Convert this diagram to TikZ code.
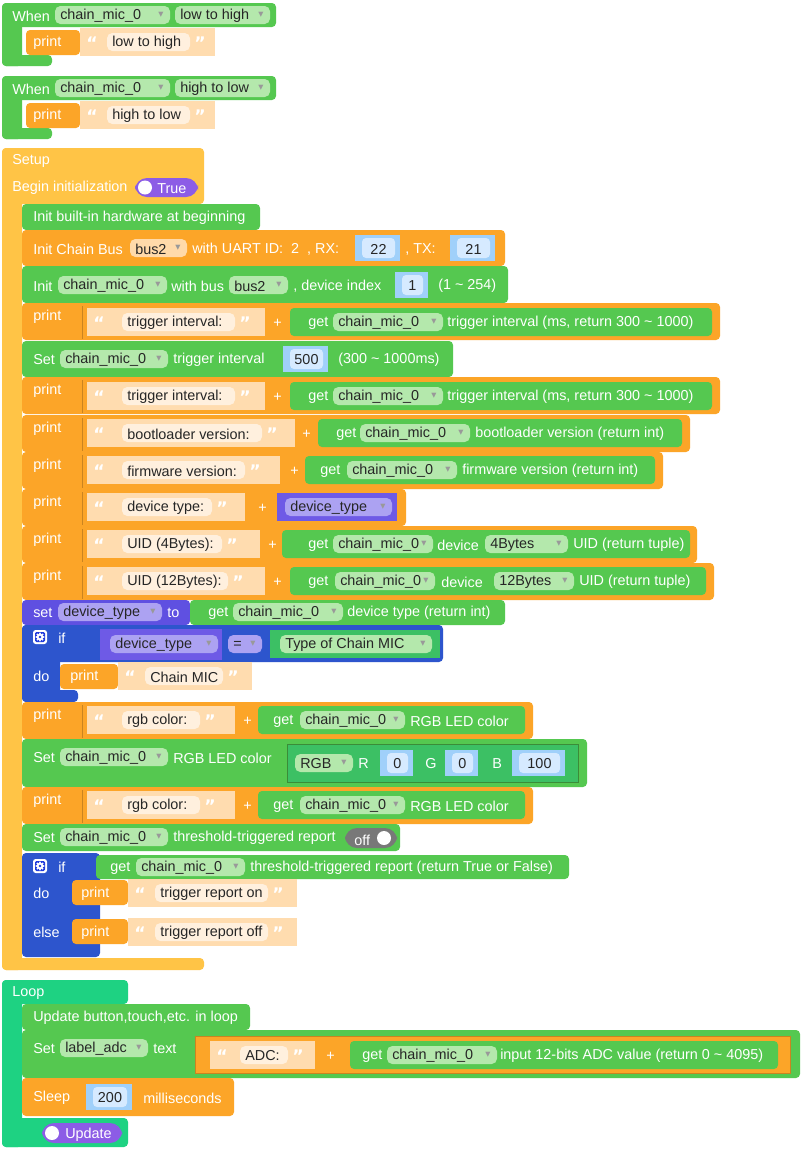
\documentclass[tikz,border=0pt]{standalone}
\usepackage{fontspec}
\setmainfont{Liberation Sans}
\newfontfamily\sym{DejaVu Sans}
\definecolor{grn}{RGB}{85,200,80}
\definecolor{fgrn}{RGB}{180,232,172}
\definecolor{dgrn}{RGB}{60,192,100}
\definecolor{org}{RGB}{252,165,40}
\definecolor{forg}{RGB}{255,218,170}
\definecolor{str}{RGB}{255,220,175}
\definecolor{fstr}{RGB}{255,240,222}
\definecolor{nblu}{RGB}{160,208,250}
\definecolor{fnblu}{RGB}{214,234,255}
\definecolor{ppl}{RGB}{95,80,225}
\definecolor{fppl}{RGB}{172,162,242}
\definecolor{vppl}{RGB}{110,90,230}
\definecolor{tgl}{RGB}{140,92,230}
\definecolor{ifb}{RGB}{45,85,205}
\definecolor{teal}{RGB}{30,210,130}
\definecolor{yel}{RGB}{255,196,70}
\definecolor{gry}{RGB}{120,120,120}
\tikzset{tx/.style={anchor=west,inner sep=0pt,text=white,font=\fontsize{10.8}{12}\selectfont},
 fx/.style={anchor=west,inner sep=0pt,text=black!85,font=\fontsize{10.8}{12}\selectfont},
 qx/.style={anchor=center,inner sep=0pt,text=white,font=\sym\fontsize{13}{13}\selectfont\bfseries},
 dd/.style={anchor=center,inner sep=0pt,text=black!40,font=\sym\fontsize{5}{6}\selectfont}}
\newcommand\bx[5]{\fill[#5,rounded corners=3pt](#1,#2) rectangle (#3,#4);}
\newcommand\T[3]{\node[tx] at (#1,#2+1){#3};}
\newcommand\F[5]{\fill[#5,rounded corners=4pt](#1,#3-9) rectangle (#2,#3+9);\node[fx] at (#1+5,#3+1){#4};}
\newcommand\FD[5]{\F{#1}{#2}{#3}{#4}{#5}\node[dd] at (#2-9,#3){▼};}
\newcommand\N[4]{\fill[nblu](#1,#3-13) rectangle (#2,#3+13);\fill[fnblu,rounded corners=3pt](#1+7,#3-10) rectangle (#2-5,#3+10);\node[fx,anchor=center] at ({(#1+#2)/2+1},#3+1){#4};}
\newcommand\Sb[6]{\fill[str](#1,#5-14) rectangle (#2,#5+14);\node[qx] at (#1+12,#5+1){“};\F{#3}{#4}{#5}{#6}{fstr}\node[qx] at (#4+10,#5+1){”};}
\newcommand\Prt[3]{\bx{22}{#1}{#2}{#1+37}{org}\draw[org!80!black,line width=0.4pt](82,#1+3)--(82,#1+36);\T{33}{#1+13}{print}}
\newcommand\gear[2]{\fill[white,rounded corners=2pt](#1-7,#2-7) rectangle (#1+7,#2+7);\fill[ifb!70!blue,rounded corners=1pt](#1-5,#2-5) rectangle (#1+5,#2+5);\fill[white](#1,#2) circle (3.4);\foreach \a in {0,45,...,315}{\fill[white] (#1,#2) ++(\a:3.6) circle (1);}\fill[ifb!70!blue](#1,#2) circle (1.3);}
\begin{document}
\begin{tikzpicture}[x=0.75pt,y=-0.75pt]
\useasboundingbox (0,0) rectangle (806,1154);
\fill[white] (0,0) rectangle (806,1154);
% When 1
\foreach \o in {0,73}{
\begin{scope}[yshift=-\o*0.75pt]
\bx{2}{3}{22}{66}{grn}\bx{2}{55}{52}{66}{grn}\bx{2}{3}{276}{27}{grn}
\T{12}{15}{When}\FD{55}{170}{15}{chain\_mic\_0}{fgrn}
\bx{26}{30}{80}{55}{org}\T{33}{42}{print}
\end{scope}}
\FD{175}{270}{15}{low to high}{fgrn}
\Sb{80}{215}{107}{190}{42}{low to high}
\FD{175}{270}{88}{high to low}{fgrn}
\Sb{80}{215}{107}{190}{115}{high to low}
% Setup
\bx{2}{148}{204}{204}{yel}\bx{2}{148}{22}{970}{yel}\bx{2}{958}{204}{970}{yel}
\T{12}{160}{Setup}\T{12}{187}{Begin initialization}
\fill[tgl,rounded corners=9pt](135,178) rectangle (198,197);\fill[white](145,187.5) circle (7);\T{157}{188}{True}
% R1
\bx{22}{204}{260}{230}{grn}\T{33}{217}{Init built-in hardware at beginning}
% R2
\bx{22}{230}{505}{266}{org}\T{33}{248}{Init Chain Bus}\FD{130}{187}{248}{bus2}{forg}
\T{192}{248}{with UART ID:\ \ 2\ \ , RX:}\N{355}{400}{248}{22}\T{405}{248}{, TX:}\N{450}{495}{248}{21}
% R3
\bx{22}{266}{508}{303}{grn}\T{33}{285}{Init}\FD{58}{167}{285}{chain\_mic\_0}{fgrn}\T{171}{285}{with bus}
\FD{229}{288}{285}{bus2}{fgrn}\T{293}{285}{, device index}\N{395}{428}{285}{1}\T{438}{285}{(1 \textasciitilde\ 254)}
% R4
\Prt{303}{720}{}\Sb{87}{265}{122}{235}{322}{trigger interval:}\T{273}{322}{+}
\bx{290}{308}{712}{336}{grn}\T{308}{322}{get}\FD{333}{443}{322}{chain\_mic\_0}{fgrn}\T{447}{322}{trigger interval (ms, return 300 \textasciitilde\ 1000)}
% R5
\bx{22}{341}{453}{377}{grn}\T{33}{359}{Set}\FD{60}{168}{359}{chain\_mic\_0}{fgrn}\T{173}{359}{trigger interval}\N{283}{328}{359}{500}\T{338}{359}{(300 \textasciitilde\ 1000ms)}
% R6
\Prt{377}{720}{}\Sb{87}{265}{122}{235}{396}{trigger interval:}\T{273}{396}{+}
\bx{290}{382}{712}{410}{grn}\T{308}{396}{get}\FD{333}{443}{396}{chain\_mic\_0}{fgrn}\T{447}{396}{trigger interval (ms, return 300 \textasciitilde\ 1000)}
% R7
\Prt{415}{690}{}\Sb{87}{295}{122}{262}{433}{bootloader version:}\T{302}{433}{+}
\bx{318}{419}{682}{447}{grn}\T{336}{433}{get}\FD{360}{470}{433}{chain\_mic\_0}{fgrn}\T{475}{433}{bootloader version (return int)}
% R8
\Prt{452}{663}{}\Sb{87}{280}{122}{245}{470}{firmware version:}\T{290}{470}{+}
\bx{305}{456}{655}{484}{grn}\T{320}{470}{get}\FD{347}{457}{470}{chain\_mic\_0}{fgrn}\T{462}{470}{firmware version (return int)}
% R9
\Prt{489}{406}{}\Sb{87}{245}{122}{212}{507}{device type:}\T{258}{507}{+}
\fill[vppl](277,493) rectangle (397,521);\FD{285}{392}{507}{device\_type}{fppl}
% R10
\Prt{526}{697}{}\Sb{87}{260}{122}{222}{544}{UID (4Bytes):}\T{268}{544}{+}
\bx{282}{530}{690}{558}{grn}\T{308}{544}{get}\FD{333}{433}{544}{chain\_mic\_0}{fgrn}\T{437}{544}{device}\FD{485}{568}{544}{4Bytes}{fgrn}\T{573}{544}{UID (return tuple)}
% R11
\Prt{563}{714}{}\Sb{87}{265}{122}{228}{581}{UID (12Bytes):}\T{273}{581}{+}
\bx{290}{567}{706}{595}{grn}\T{308}{581}{get}\FD{335}{435}{581}{chain\_mic\_0}{fgrn}\T{441}{581}{device}\FD{494}{574}{581}{12Bytes}{fgrn}\T{579}{581}{UID (return tuple)}
% R12
\bx{22}{600}{190}{625}{ppl}\T{33}{612}{set}\FD{58}{162}{612}{device\_type}{fppl}\T{167}{612}{to}
\bx{190}{600}{505}{625}{grn}\T{208}{612}{get}\FD{233}{343}{612}{chain\_mic\_0}{fgrn}\T{347}{612}{device type (return int)}
% R13
\bx{22}{625}{443}{662}{ifb}\bx{22}{625}{60}{702}{ifb}\bx{22}{690}{78}{702}{ifb}
\gear{40}{637}
\T{58}{637}{if}
\fill[vppl](100,629) rectangle (222,660);\FD{110}{218}{644}{device\_type}{fppl}
\FD{228}{262}{644}{=}{fppl}
\fill[dgrn](270,630) rectangle (440,658);\FD{280}{432}{644}{Type of Chain MIC}{fgrn}
\T{33}{675}{do}
\bx{60}{664}{118}{689}{org}\T{70}{676}{print}\Sb{118}{252}{145}{223}{676}{Chain MIC}
% R14
\Prt{702}{533}{}\Sb{87}{235}{122}{200}{720}{rgb color:}\T{243}{720}{+}
\bx{258}{706}{525}{734}{grn}\T{273}{720}{get}\FD{300}{405}{720}{chain\_mic\_0}{fgrn}\T{410}{720}{RGB LED color}
% R15
\bx{22}{739}{587}{787}{grn}\T{33}{757}{Set}\FD{60}{168}{757}{chain\_mic\_0}{fgrn}\T{173}{757}{RGB LED color}
\fill[dgrn](287,744) rectangle (578,782);\draw[grn!70!black,line width=0.4pt](287,744) rectangle (578,782);
\FD{295}{353}{763}{RGB}{fgrn}\T{358}{763}{R}\N{380}{413}{763}{0}\T{425}{763}{G}\N{445}{478}{763}{0}\T{492}{763}{B}\N{512}{565}{763}{100}
% R16
\Prt{787}{533}{}\Sb{87}{235}{122}{200}{805}{rgb color:}\T{243}{805}{+}
\bx{258}{791}{525}{819}{grn}\T{273}{805}{get}\FD{300}{405}{805}{chain\_mic\_0}{fgrn}\T{410}{805}{RGB LED color}
% R17
\bx{22}{824}{400}{851}{grn}\T{33}{837}{Set}\FD{60}{168}{837}{chain\_mic\_0}{fgrn}\T{173}{837}{threshold-triggered report}
\fill[gry,rounded corners=9pt](345,828) rectangle (397,848);\T{354}{839}{off}\fill[white](384,838) circle (7);
% R18
\bx{22}{853}{100}{957}{ifb}
\gear{40}{866}
\T{58}{866}{if}
\bx{96}{855}{569}{879}{grn}\T{110}{867}{get}\FD{136}{245}{867}{chain\_mic\_0}{fgrn}\T{250}{867}{threshold-triggered report (return True or False)}
\T{33}{892}{do}\bx{72}{880}{128}{905}{org}\T{81}{893}{print}\Sb{128}{297}{155}{268}{893}{trigger report on}
\T{33}{931}{else}\bx{72}{919}{128}{944}{org}\T{81}{932}{print}\Sb{128}{297}{155}{268}{932}{trigger report off}
% Loop
\bx{2}{980}{128}{1004}{teal}\bx{2}{980}{22}{1147}{teal}\bx{2}{1118}{128}{1147}{teal}
\T{12}{992}{Loop}
\bx{22}{1004}{250}{1030}{grn}\T{33}{1017}{Update button,touch,etc. in loop}
\bx{22}{1030}{800}{1078}{grn}\T{33}{1048}{Set}\FD{60}{148}{1048}{label\_adc}{fgrn}\T{153}{1048}{text}
\fill[org](195,1036) rectangle (790,1073);\draw[org!80!black,line width=0.4pt](195,1036) rectangle (790,1073);
\Sb{210}{315}{240}{288}{1055}{ADC:}\T{326}{1055}{+}
\bx{350}{1041}{778}{1069}{grn}\T{362}{1055}{get}\FD{387}{497}{1055}{chain\_mic\_0}{fgrn}\T{500}{1055}{input 12-bits ADC value (return 0 \textasciitilde\ 4095)}
\bx{22}{1078}{234}{1116}{org}\T{33}{1097}{Sleep}\N{86}{132}{1097}{200}\T{143}{1097}{milliseconds}
\fill[tgl,rounded corners=9pt](42,1123) rectangle (122,1143);\fill[white](52,1133) circle (7);\T{65}{1134}{Update}
\end{tikzpicture}
\end{document}
